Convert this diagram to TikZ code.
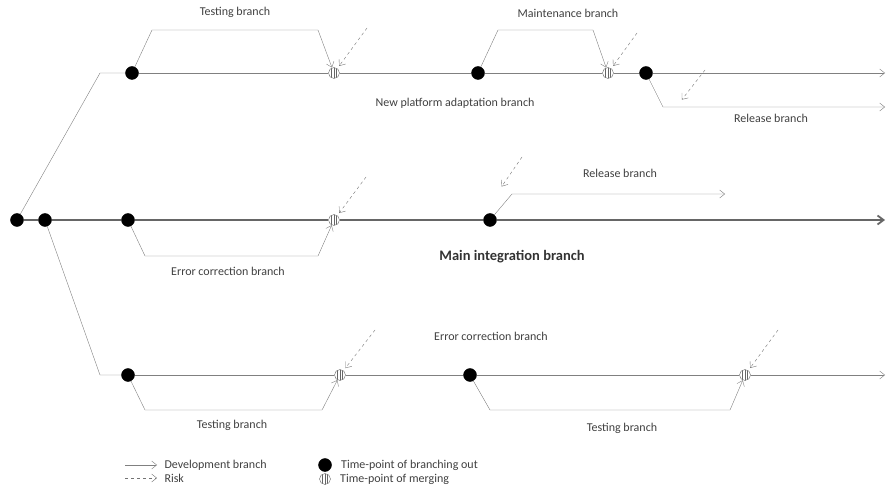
\documentclass[tikz,border=0pt]{standalone}
\usepackage{fontspec}
\setmainfont{Carlito}
\usetikzlibrary{arrows.meta,positioning}

\begin{document}
\begin{tikzpicture}[
        x=1pt, y=-1pt,
        font=\fontsize{12}{14}\selectfont\color{black!75},
        branch/.style={draw, circle, fill=black, inner sep=0pt, minimum size=13pt},
        merge/.style={draw=black!60, circle, fill=white, inner sep=0pt, minimum size=11pt,
            path picture={\foreach \dx in {-2.5,0,2.5}
                \draw[black!60, line width=0.6pt] ([xshift=\dx pt]path picture bounding box.north) -- ([xshift=\dx pt]path picture bounding box.south);}},
        line/.style={draw=black!50, -{Straight Barb[length=5pt,width=8pt]}},
        plain/.style={draw=black!50},
        risk/.style={draw=black!55, dashed, shorten >=3pt, -{Straight Barb[length=5pt,width=8pt]}},
        mainline/.style={draw=black!60, line width=1.8pt, -{Straight Barb[length=6pt,width=9pt]}}
    ]
    \useasboundingbox (0,0) rectangle (889,494);

    % MAIN INTEGRATION BRANCH
    \node[branch] (m0) at (17,220) {};
    \node[branch] (m1) at (45,220) {};
    \coordinate (mend) at (885,220);
    \node[branch] (m2) at (128,220) {};
    \node[merge] (mm1) at (334,220) {};
    \node[branch] (m3) at (490,220) {};
    \draw[mainline] (m0) -- (m1) -- (m2) -- (mm1) -- (m3) -- (mend);
    \node[font=\fontsize{14.5}{16}\selectfont\bfseries\color{black!80}] (mlab) at (512,257) {Main integration branch};

    % error correction (main)
    \coordinate (ec1) at (145,256);
    \coordinate (ec2) at (318,256);
    \draw[line] (m2) -- (ec1) -- (ec2) -- (mm1);
    \node (eclab) at (228,271) {Error correction branch};
    \coordinate (r1) at (366,177);
    \draw[risk] (r1) -- (mm1);

    % release (main)
    \coordinate (rl1) at (512,194);
    \coordinate (rl2) at (725,194);
    \draw[line] (m3) -- (rl1) -- (rl2);
    \node (rllab) at (620,173) {Release branch};
    \coordinate (r2) at (522,157);
    \coordinate (r2e) at (500,189);
    \draw[risk] (r2) -- (r2e);

    % NEW PLATFORM ADAPTATION BRANCH
    \coordinate (t0) at (100,73);
    \node[branch] (t1) at (132,73) {};
    \node[merge] (tm1) at (334,73) {};
    \node[branch] (t2) at (478,73) {};
    \node[merge] (tm2) at (608,73) {};
    \node[branch] (t3) at (646,73) {};
    \coordinate (tend) at (885,73);
    \draw[plain] (m0) -- (t0) -- (t1);
    \draw[line] (t1) -- (tm1) -- (t2) -- (tm2) -- (t3) -- (tend);
    \node (tlab) at (455,103) {New platform adaptation branch};

    % testing (top)
    \coordinate (tt1) at (152,30);
    \coordinate (tt2) at (318,30);
    \draw[line] (t1) -- (tt1) -- (tt2) -- (tm1);
    \node (ttlab) at (235,12) {Testing branch};
    \coordinate (r3) at (367,28);
    \draw[risk] (r3) -- (tm1);

    % maintenance
    \coordinate (mt1) at (498,30);
    \coordinate (mt2) at (593,30);
    \draw[line] (t2) -- (mt1) -- (mt2) -- (tm2);
    \node (mtlab) at (568,13) {Maintenance branch};
    \coordinate (r4) at (637,33);
    \draw[risk] (r4) -- (tm2);

    % release (top)
    \coordinate (tr1) at (663,107);
    \coordinate (tr2) at (885,107);
    \draw[line] (t3) -- (tr1) -- (tr2);
    \node (trlab) at (771,118) {Release branch};
    \coordinate (r5) at (705,70);
    \coordinate (r5e) at (680,102);
    \draw[risk] (r5) -- (r5e);

    % ERROR CORRECTION BRANCH (bottom)
    \coordinate (b0) at (100,375);
    \node[branch] (b1) at (128,375) {};
    \node[merge] (bm1) at (340,375) {};
    \node[branch] (b2) at (470,375) {};
    \node[merge] (bm2) at (745,375) {};
    \coordinate (bend) at (885,375);
    \draw[plain] (m1) -- (b0) -- (b1);
    \draw[line] (b1) -- (bm1) -- (b2) -- (bm2) -- (bend);
    \node (blab) at (491,336) {Error correction branch};

    % testing (bottom)
    \coordinate (bt1) at (145,410);
    \coordinate (bt2) at (322,410);
    \draw[line] (b1) -- (bt1) -- (bt2) -- (bm1);
    \node (btlab) at (232,425) {Testing branch};
    \coordinate (r6) at (375,330);
    \draw[risk] (r6) -- (bm1);

    \coordinate (bt3) at (490,410);
    \coordinate (bt4) at (730,410);
    \draw[line] (b2) -- (bt3) -- (bt4) -- (bm2);
    \node (bt2lab) at (622,428) {Testing branch};
    \coordinate (r7) at (778,330);
    \draw[risk] (r7) -- (bm2);

    % LEGEND
    \coordinate (ld1) at (125,465);
    \coordinate (ld2) at (157,465);
    \draw[line] (ld1) -- (ld2);
    \node[right=4pt of ld2] (ldlab) {Development branch};
    \coordinate (lr1) at (125,478);
    \coordinate (lr2) at (157,478);
    \draw[risk, shorten >=0pt] (lr1) -- (lr2);
    \node[right=4pt of lr2] (lrlab) {Risk};
    \node[branch] (lb) at (325,465) {};
    \node[right=6pt of lb] (lblab) {Time-point of branching out};
    \node[merge] (lm) at (325,479) {};
    \node[right=6pt of lm] (lmlab) {Time-point of merging};

\end{tikzpicture}
\end{document}
